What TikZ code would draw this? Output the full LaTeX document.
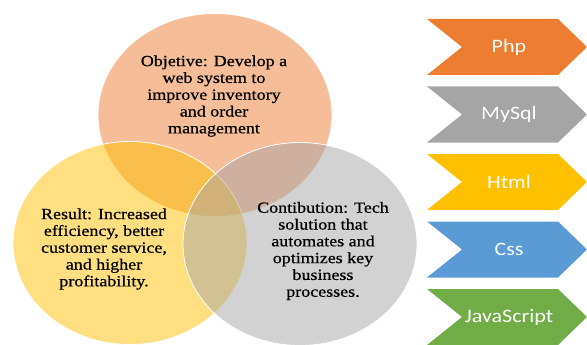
\documentclass[tikz,border=0pt]{standalone}
\usepackage{fontspec}
\usetikzlibrary{shapes.geometric}
\newfontfamily\vennfont[FakeStretch=1.16,FakeBold=0.6]{Liberation Serif}
\newfontfamily\chevfont[FakeStretch=1.16]{Carlito}
\definecolor{corange}{HTML}{ED7D31}
\definecolor{cgray}{HTML}{A5A5A5}
\definecolor{cgold}{HTML}{FFC000}
\definecolor{cblue}{HTML}{5B9BD5}
\definecolor{cgreen}{HTML}{70AD47}
\begin{document}
\begin{tikzpicture}[x=1pt,y=-1pt,
  venn/.style={ellipse, draw=white, line width=0.8pt, fill opacity=0.5,
    minimum width=234pt, minimum height=203pt, inner sep=0pt},
  venntext/.style={font=\vennfont\fontsize{15.5}{16.8}\selectfont, align=center, text=black, inner sep=0pt},
  chevtext/.style={font=\chevfont\fontsize{19}{22}\selectfont, text=white, inner sep=0pt}]
\useasboundingbox (0,0) rectangle (587,345);
\node[venn, fill=corange] (obj) at (215,115) {};
\node[venn, fill=cgold] (res) at (130,243) {};
\node[venn, fill=cgray] (con) at (300,244) {};
\node[venntext] (objt) at (214,96) {Objetive: Develop a\\web system to\\improve inventory\\and order\\management};
\node[venntext] (rest) at (104,249) {Result: Increased\\efficiency, better\\customer service,\\and higher\\profitability.};
\node[venntext] (cont) at (323,251) {Contibution: Tech\\solution that\\automates and\\optimizes key\\business\\processes.};
\foreach \n/\lab/\col [count=\i from 0] in {php/Php/corange, mysql/MySql/cgray, html/Html/cgold, css/Css/cblue, js/JavaScript/cgreen} {
  \pgfmathsetmacro\ym{47+67.5*\i}
  \fill[\col] (427,\ym-28) -- (558,\ym-28) -- (587,\ym) -- (558,\ym+28) -- (427,\ym+28) -- (462,\ym) -- cycle;
  \node[chevtext] (\n) at (509,\ym) {\lab};
}
\end{tikzpicture}
\end{document}
